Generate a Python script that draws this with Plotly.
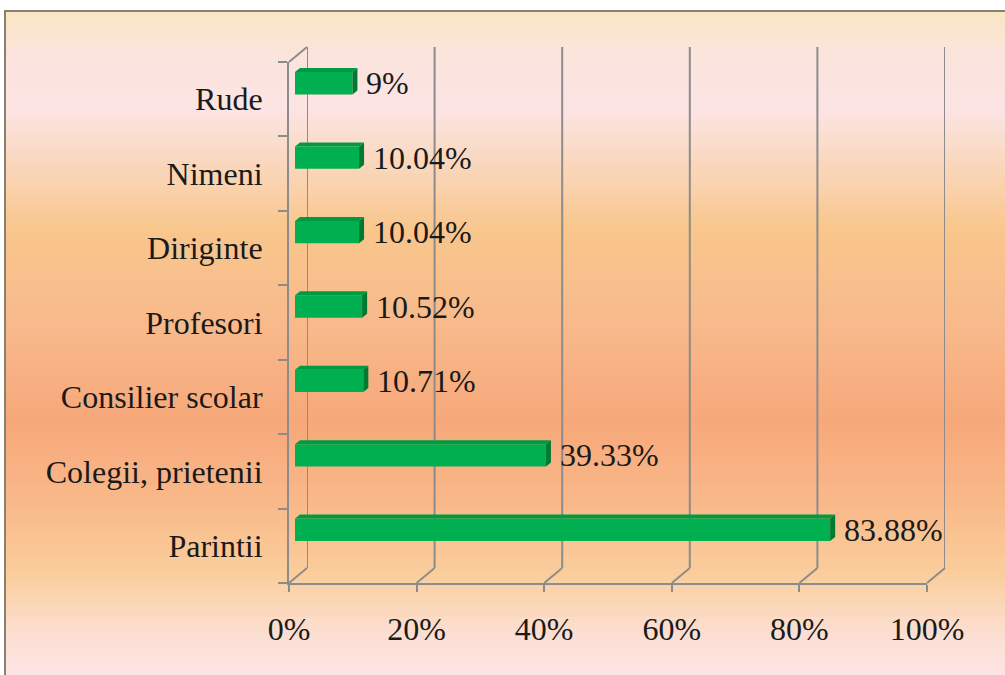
import plotly.graph_objects as go

categories = ["Parintii", "Colegii, prietenii", "Consilier scolar", "Profesori",
              "Diriginte", "Nimeni", "Rude"]
values = [83.88, 39.33, 10.71, 10.52, 10.04, 10.04, 9]
x_ticks = [0, 20, 40, 60, 80, 100]

W, H = 1005, 675
FONT = "Liberation Serif, Times New Roman, serif"
GRID = "#8c8c8c"
FS = 32

def px(x):
    return x / W

def py(y):
    return 1 - y / H

# plane geometry in pixels
FX0, FX1, FYB, FYT = 289, 927, 583, 62        # front plane
DX, DY = 18, 15                                 # depth offset of back wall
BX_OFF, BY_OFF = 6, 16                          # bar front face offset

fig = go.Figure()

# background gradient (decoration)
stops = [(11, (248, 230, 198)), (60, (251, 228, 222)), (110, (252, 228, 228)),
         (170, (250, 214, 184)), (230, (249, 198, 140)), (320, (248, 186, 140)),
         (420, (247, 168, 122)), (500, (249, 184, 136)), (575, (250, 206, 156)),
         (630, (252, 222, 208)), (675, (253, 228, 228))]

def col_at(y):
    for (y0, c0), (y1, c1) in zip(stops[:-1], stops[1:]):
        if y0 <= y <= y1:
            t = (y - y0) / (y1 - y0)
            return "rgb(%d,%d,%d)" % tuple(round(a + (b - a) * t) for a, b in zip(c0, c1))
    return "rgb(%d,%d,%d)" % stops[-1][1]

shapes = []
step = 6
for y in range(11, 676, step):
    shapes.append(dict(type="rect", xref="paper", yref="paper", layer="below",
                       x0=px(5), x1=1.01, y0=py(min(y + step, 676)), y1=py(y),
                       fillcolor=col_at(y + step / 2), line=dict(width=0)))
shapes.append(dict(type="rect", xref="paper", yref="paper", layer="below",
                   x0=px(5), x1=1.02, y0=-0.02, y1=py(11),
                   fillcolor="rgba(0,0,0,0)", line=dict(color="#8a8070", width=2)))

# floor diagonals and top-left wall edge
scale = (FX1 - FX0) / 100.0
for t in x_ticks:
    fx = FX0 + t * scale
    shapes.append(dict(type="line", xref="paper", yref="paper", layer="below",
                       x0=px(fx), y0=py(FYB), x1=px(fx + DX), y1=py(FYB - DY),
                       line=dict(color=GRID, width=2)))
shapes.append(dict(type="line", xref="paper", yref="paper", layer="below",
                   x0=px(FX0), y0=py(FYT), x1=px(FX0 + DX), y1=py(FYT - DY),
                   line=dict(color=GRID, width=2)))

# back-wall gridlines on the back-plane axis
for t in x_ticks:
    shapes.append(dict(type="line", xref="x2", yref="paper", layer="below",
                       x0=t, x1=t, y0=py(FYB - DY), y1=py(FYT - DY),
                       line=dict(color=GRID, width=2)))

# 3D extrusion of bars (top and side faces) in bar-axis data units
bw = 0.3
ddx = 5 / scale
ddy = 4 / ((FYB - FYT) / 7.0)
for i, v in enumerate(values):
    top = i + bw / 2
    bot = i - bw / 2
    shapes.append(dict(type="path", xref="x3", yref="y3", layer="above",
                       path=f"M 0,{top} L {v},{top} L {v+ddx},{top+ddy} L {ddx},{top+ddy} Z",
                       fillcolor="#009a42", line=dict(width=0)))
    shapes.append(dict(type="path", xref="x3", yref="y3", layer="above",
                       path=f"M {v},{bot} L {v+ddx},{bot+ddy} L {v+ddx},{top+ddy} L {v},{top} Z",
                       fillcolor="#007a32", line=dict(width=0)))

fig.add_trace(go.Scatter(x=[None], y=[None], xaxis="x", yaxis="y",
                         showlegend=False, hoverinfo="skip"))
fig.add_trace(go.Scatter(x=[None], y=[None], xaxis="x2", yaxis="y2",
                         showlegend=False, hoverinfo="skip"))
fig.add_trace(go.Bar(x=values, y=list(range(len(categories))), orientation="h",
                     width=bw, marker=dict(color="#00b050", line=dict(width=0)),
                     xaxis="x3", yaxis="y3", showlegend=False, hoverinfo="skip"))

annotations = []
for i, v in enumerate(values):
    annotations.append(dict(x=v, y=i, xref="x3", yref="y3", xanchor="left",
                            yanchor="middle", xshift=12, showarrow=False,
                            text=f"{v:g}%", font=dict(family=FONT, size=FS, color="#1a1a1a")))

fig.update_layout(
    width=W, height=H, margin=dict(l=0, r=0, t=0, b=0, autoexpand=False),
    paper_bgcolor="white", plot_bgcolor="rgba(0,0,0,0)",
    shapes=shapes, annotations=annotations, hovermode=False,
    xaxis=dict(domain=[px(FX0), px(FX1)], range=[0, 100], tickvals=x_ticks,
               ticktext=[f"{t}%" for t in x_ticks], ticks="outside", ticklen=7,
               tickwidth=2, tickcolor=GRID, showline=True, linecolor=GRID,
               linewidth=2, showgrid=False, zeroline=False, anchor="y",
               ticklabelstandoff=10, automargin=False,
               tickfont=dict(family=FONT, size=FS, color="#1a1a1a"), fixedrange=True),
    yaxis=dict(domain=[py(FYB), py(FYT)], range=[-0.5, 6.5],
               tickvals=list(range(len(categories))), ticktext=categories,
               ticks="", showline=True, linecolor=GRID, linewidth=2, showgrid=False,
               minor=dict(tickmode="linear", tick0=-0.5, dtick=1, ticks="outside",
                          ticklen=9, tickwidth=2, tickcolor=GRID, showgrid=False),
               zeroline=False, anchor="x", ticklabelstandoff=18, automargin=False,
               tickfont=dict(family=FONT, size=FS, color="#1a1a1a"), fixedrange=True),
    xaxis2=dict(domain=[px(FX0 + DX), px(FX1 + DX)], range=[0, 100],
                visible=False, showgrid=False, zeroline=False, anchor="y2",
                automargin=False),
    yaxis2=dict(domain=[py(FYB - DY), py(FYT - DY)], range=[0, 1], visible=False,
                showgrid=False, zeroline=False, anchor="x2", automargin=False),
    xaxis3=dict(domain=[px(FX0 + BX_OFF), px(FX1 + BX_OFF)], range=[0, 100],
                visible=False, showgrid=False, zeroline=False, anchor="y3",
                automargin=False),
    yaxis3=dict(domain=[py(FYB - BY_OFF), py(FYT - BY_OFF)], range=[-0.5, 6.5],
                visible=False, showgrid=False, zeroline=False, anchor="x3",
                automargin=False),
)

fig.write_html("out.html", config={"displayModeBar": False},
               post_script="document.body.style.margin='0';"
                           "document.body.style.overflow='hidden';")
